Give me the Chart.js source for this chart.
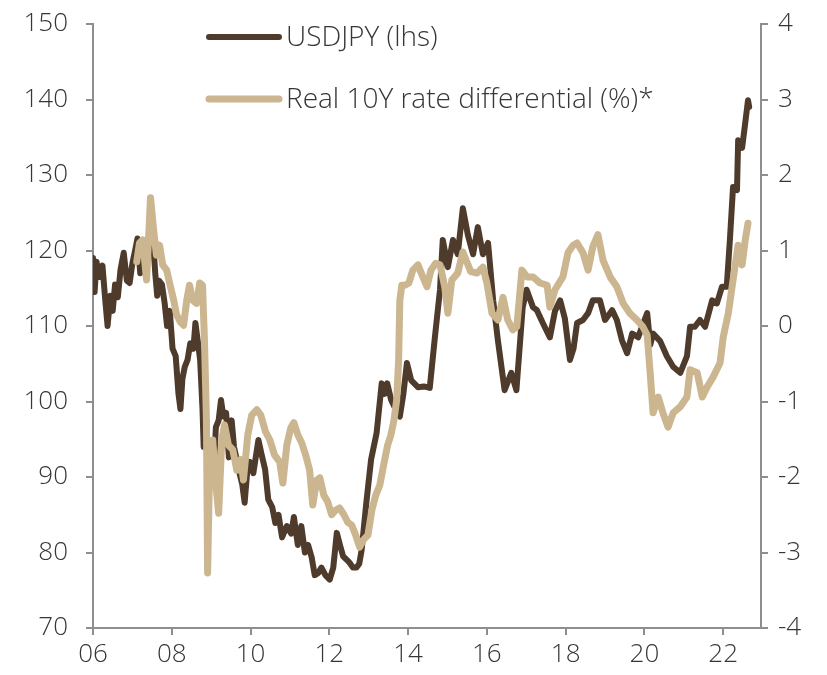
<!DOCTYPE html>
<html>
<head>
<meta charset="utf-8">
<script src="https://cdn.jsdelivr.net/npm/chart.js@4/dist/chart.umd.min.js"></script>
<style>
html,body{margin:0;padding:0;background:#fff;}
#wrap{width:827px;height:675px;position:relative;}
</style>
</head>
<body>
<div id="wrap"><canvas id="c" width="827" height="675"></canvas></div>
<script>
// USDJPY (left axis) — decimal year / level
const usdjpyYears = [2006.00,2006.04,2006.09,2006.16,2006.24,2006.31,2006.37,2006.44,2006.50,2006.56,2006.63,2006.70,2006.78,2006.86,2006.93,
2007.00,2007.07,2007.13,2007.20,2007.26,2007.36,2007.45,2007.53,2007.58,2007.63,2007.68,2007.75,2007.82,2007.88,2007.95,
2008.02,2008.10,2008.17,2008.22,2008.27,2008.33,2008.40,2008.47,2008.55,2008.60,2008.66,2008.72,2008.78,2008.81,2008.86,2008.91,2008.96,
2009.02,2009.07,2009.12,2009.19,2009.25,2009.31,2009.38,2009.45,2009.52,2009.58,2009.65,2009.72,2009.79,2009.85,2009.92,2009.98,
2010.07,2010.20,2010.28,2010.37,2010.45,2010.55,2010.63,2010.71,2010.80,2010.92,
2011.03,2011.10,2011.20,2011.29,2011.38,2011.46,2011.55,2011.63,2011.72,2011.80,2011.90,
2012.01,2012.10,2012.19,2012.27,2012.35,2012.45,2012.52,2012.60,2012.69,2012.76,2012.82,2012.94,
2013.06,2013.20,2013.33,2013.40,2013.47,2013.57,2013.68,2013.79,2013.88,2013.97,
2014.08,2014.25,2014.40,2014.55,2014.68,2014.81,2014.88,
2015.01,2015.14,2015.26,2015.39,2015.52,2015.65,2015.77,2015.90,
2016.03,2016.16,2016.28,2016.45,2016.62,2016.75,2016.91,
2017.01,2017.17,2017.27,2017.42,2017.60,2017.73,2017.86,2017.98,
2018.11,2018.20,2018.29,2018.44,2018.57,2018.69,2018.87,
2019.00,2019.18,2019.30,2019.43,2019.56,2019.69,2019.84,
2020.07,2020.15,2020.22,2020.40,2020.57,2020.73,2020.91,
2021.08,2021.16,2021.28,2021.41,2021.54,2021.72,2021.84,2021.97,
2022.09,2022.17,2022.25,2022.35,2022.38,2022.48,2022.56,2022.63,2022.66];
const usdjpyValues = [119,114.5,118.5,116.5,118,113.5,110,114,112,115.5,113.8,117.5,119.7,116,115.7,
118.3,120,121.6,117,119.7,120.5,122.5,121,117,114,116,115.5,113,110,112,
107,106,101,99,103,104.6,105.5,107.7,107,110.4,108,105.5,99,94,96.5,93.6,91,
90,91.5,96.6,97.5,100.2,98,98.5,92.6,97.5,94,92.3,90.5,89,86.6,91,92,
90.5,94.9,93,91,87,86,83.9,85,82,83.5,
82.5,84.7,81,83.5,80,81,79.4,77,77.3,78,77,
76.4,78,82.6,81,79.5,79,78.6,78,78,78.5,80.3,86.6,
92.3,95.8,102.4,101,102.4,100.2,99,98,101,105.1,
102.8,101.9,102,101.8,108.5,114.8,121.4,
117.8,121.4,119.5,125.6,122,119.5,123.1,119.5,
121,113.4,108.1,101.5,103.8,101.5,112.5,
114.8,112.5,112.1,110.4,108.5,112,113.4,111,
105.5,107,110.4,110.8,111.7,113.4,113.4,
110.8,112.1,110.8,108.1,106.4,109,108.5,
111.7,107.5,109,108,106,104.6,103.8,
106,109.9,109.9,110.8,109.9,113.4,113,115.2,
115.2,121.4,128.4,128,134.6,133.6,136.9,139.9,139];

// Real 10Y rate differential (%) (right axis)
const rateYears = [2007.11,2007.18,2007.26,2007.36,2007.46,2007.54,2007.61,2007.69,2007.77,2007.87,2007.94,
2008.05,2008.12,2008.22,2008.30,2008.38,2008.45,2008.53,2008.63,2008.71,2008.78,2008.83,2008.88,2008.91,2008.96,
2009.04,2009.11,2009.19,2009.27,2009.34,2009.44,2009.55,2009.65,2009.75,2009.82,2009.93,
2010.03,2010.16,2010.26,2010.38,2010.49,2010.61,2010.74,2010.82,2010.92,
2011.02,2011.10,2011.20,2011.30,2011.40,2011.50,2011.58,2011.68,2011.76,2011.86,2011.96,
2012.06,2012.16,2012.26,2012.37,2012.47,2012.57,2012.67,2012.77,2012.87,2012.98,
2013.08,2013.18,2013.28,2013.38,2013.48,2013.56,2013.64,2013.71,2013.76,2013.79,2013.84,2013.92,
2014.02,2014.12,2014.25,2014.35,2014.48,2014.58,2014.70,2014.81,2014.93,
2015.01,2015.11,2015.26,2015.39,2015.49,2015.59,2015.75,2015.90,
2016.00,2016.13,2016.28,2016.41,2016.53,2016.66,2016.76,2016.89,
2017.02,2017.17,2017.35,2017.53,2017.60,2017.73,2017.93,
2018.06,2018.19,2018.29,2018.44,2018.57,2018.69,2018.82,2018.95,
2019.13,2019.30,2019.46,2019.63,2019.81,2019.96,
2020.07,2020.14,2020.22,2020.35,2020.47,2020.60,2020.73,2020.91,
2021.08,2021.16,2021.34,2021.47,2021.59,2021.74,2021.92,
2022.00,2022.13,2022.25,2022.38,2022.48,2022.56,2022.63];
const rateValues = [0.85,1.10,1.14,0.61,1.70,1.27,0.94,1.07,0.81,0.74,0.58,
0.34,0.15,0.05,0.01,0.34,0.54,0.34,0.30,0.57,0.54,-0.19,-1.25,-3.27,-1.91,
-1.51,-2.04,-2.48,-1.51,-1.31,-1.58,-1.64,-1.91,-1.77,-2.04,-1.44,
-1.18,-1.11,-1.18,-1.40,-1.51,-1.71,-1.80,-2.08,-1.58,
-1.35,-1.28,-1.44,-1.55,-1.71,-1.91,-2.37,-2.04,-2.01,-2.24,-2.33,
-2.50,-2.44,-2.41,-2.50,-2.60,-2.64,-2.77,-2.93,-2.83,-2.77,
-2.44,-2.24,-2.11,-1.84,-1.58,-1.45,-1.25,-0.98,-0.45,0.34,0.54,0.54,
0.57,0.74,0.81,0.68,0.52,0.74,0.83,0.81,0.52,
0.17,0.61,0.70,0.98,0.85,0.72,0.70,0.78,
0.57,0.17,0.08,0.38,0.08,-0.05,-0.01,0.74,
0.65,0.65,0.57,0.54,0.25,0.48,0.65,
0.97,1.07,1.10,0.97,0.74,1.05,1.21,0.87,
0.65,0.52,0.30,0.17,0.08,-0.01,
-0.12,-0.58,-1.15,-0.94,-1.15,-1.34,-1.15,-1.07,
-0.94,-0.58,-0.62,-0.94,-0.81,-0.68,-0.49,
-0.15,0.17,0.61,1.07,0.81,1.14,1.36];

const xTickYears = [2006,2008,2010,2012,2014,2016,2018,2020,2022];
const leftTicks = [70,80,90,100,110,120,130,140,150];
const rightTicks = [-4,-3,-2,-1,0,1,2,3,4];
const seriesLabels = ['USDJPY (lhs)', 'Real 10Y rate differential (%)*'];

const DARK = '#4f3b2b';
const TAN = '#cbb690';
const AXIS = '#8e8e8e';
const TXT = '#363636';
const FAMILY = "'Open Sans', 'Noto Sans', sans-serif";
const FONT = {family: FAMILY, size: 26, weight: '300'};

const toPts = (xs, ys) => xs.map((x, i) => ({x: x, y: ys[i]}));

const legendPlugin = {
  id: 'customLegend',
  afterDraw(chart) {
    const ctx = chart.ctx;
    const items = [
      {label: seriesLabels[0], color: DARK, y: 37, w: 6},
      {label: seriesLabels[1], color: TAN, y: 99, w: 7}
    ];
    ctx.save();
    items.forEach(it => {
      ctx.strokeStyle = it.color;
      ctx.lineWidth = it.w;
      ctx.lineCap = 'round';
      ctx.beginPath();
      ctx.moveTo(209, it.y);
      ctx.lineTo(279, it.y);
      ctx.stroke();
      ctx.fillStyle = TXT;
      ctx.font = "300 28px " + FAMILY;
      ctx.textBaseline = 'middle';
      ctx.textAlign = 'left';
      ctx.fillText(it.label, 286, it.y + 1);
    });
    ctx.restore();
  }
};

const noPadY = s => { s.paddingTop = 0; s.paddingBottom = 0; };

new Chart(document.getElementById('c'), {
  type: 'line',
  data: {
    datasets: [
      {label: seriesLabels[0], data: toPts(usdjpyYears, usdjpyValues), yAxisID: 'yL',
       borderColor: DARK, borderWidth: 6, pointRadius: 0, tension: 0, order: 2,
       borderJoinStyle: 'round', borderCapStyle: 'round'},
      {label: seriesLabels[1], data: toPts(rateYears, rateValues), yAxisID: 'yR',
       borderColor: TAN, borderWidth: 7, pointRadius: 0, tension: 0, order: 1,
       borderJoinStyle: 'round', borderCapStyle: 'round'}
    ]
  },
  options: {
    responsive: false,
    animation: false,
    devicePixelRatio: 1,
    layout: {padding: {top: 24, left: 0, right: 0, bottom: 0}},
    plugins: {legend: {display: false}, tooltip: {enabled: false}},
    scales: {
      x: {
        type: 'linear', min: 2006, max: 2022.96,
        afterBuildTicks: s => { s.ticks = xTickYears.map(v => ({value: v})); },
        afterFit: s => { s.height = 47; s.paddingLeft = 0; s.paddingRight = 0; },
        grid: {drawOnChartArea: false, drawTicks: true, tickLength: 7, color: AXIS, lineWidth: 2},
        border: {display: true, color: AXIS, width: 2},
        ticks: {color: TXT, font: FONT, padding: 4, maxRotation: 0,
                callback: v => String(v).slice(2)}
      },
      yL: {
        type: 'linear', position: 'left', min: 70, max: 150,
        afterBuildTicks: s => { s.ticks = leftTicks.map(v => ({value: v})); },
        afterFit: s => { s.width = 93; noPadY(s); },
        grid: {drawOnChartArea: false, drawTicks: true, tickLength: 7, color: AXIS, lineWidth: 2},
        border: {display: true, color: AXIS, width: 2},
        ticks: {color: TXT, font: FONT, padding: 18}
      },
      yR: {
        type: 'linear', position: 'right', min: -4, max: 4,
        afterBuildTicks: s => { s.ticks = rightTicks.map(v => ({value: v})); },
        afterFit: s => { s.width = 66; noPadY(s); },
        grid: {drawOnChartArea: false, drawTicks: true, tickLength: 7, color: AXIS, lineWidth: 2},
        border: {display: true, color: AXIS, width: 2},
        ticks: {color: TXT, font: FONT, padding: 10}
      }
    }
  },
  plugins: [legendPlugin]
});
</script>
</body>
</html>
